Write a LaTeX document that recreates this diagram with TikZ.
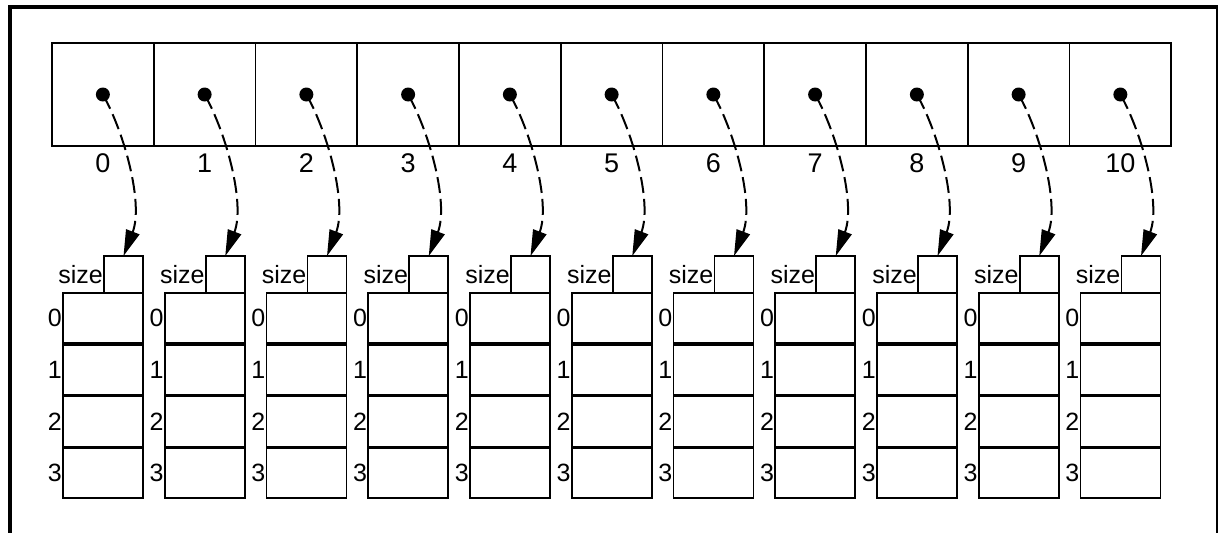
\documentclass[tikz,border=0pt]{standalone}
\usepackage{fontspec}
\setmainfont{Liberation Sans}
\usetikzlibrary{arrows.meta,calc}
\begin{document}
\begin{tikzpicture}[x=1pt,y=-1pt,
  frame/.style={line width=4pt},
  cell/.style={draw, line width=1.8pt, minimum width=101.75pt, minimum height=103pt, inner sep=0pt, outer sep=0pt},
  sizebox/.style={draw, line width=1.6pt, minimum width=39pt, minimum height=37pt, inner sep=0pt, outer sep=0pt},
  rowbox/.style={draw, line width=1.6pt, minimum width=80pt, minimum height=50pt, inner sep=0pt, outer sep=0pt},
  lab/.style={font=\fontsize{25}{30}\selectfont, inner sep=1pt},
  toplab/.style={font=\fontsize{27}{32}\selectfont, inner sep=1pt},
  conn/.style={line width=2pt, dash pattern=on 16pt off 6pt, -{Triangle[length=26pt,width=14pt]}},
  dot/.style={fill=black}]
\useasboundingbox (0,0) rectangle (1219,533);
\draw[frame] (9.5,533) -- (9.5,7) -- (1218,7);
\draw[line width=2.5pt] (1217,5) -- (1217,533);
\foreach \i in {0,...,10} {
  \node[cell] (c\i) at ({52+101.75*(\i+0.5)}, 94.5) {};
  \coordinate (d\i) at (c\i.center);
  \fill[dot] (d\i) circle (7pt);
  \node[toplab] (n\i) at ({52+101.75*(\i+0.5)}, 163) {\i};
  \node[sizebox] (s\i) at ({63+101.75*\i+60.5}, 274.5) {};
  \node[lab, anchor=east] (sl\i) at (s\i.west) {size};
  \foreach \j in {0,...,3} {
    \node[rowbox] (r\i-\j) at ({63+101.75*\i+40}, {318+51.7*\j}) {};
    \node[lab, anchor=east] (rl\i-\j) at (r\i-\j.west) {\j};
  }
  \draw[conn] (d\i) .. controls ($(d\i)+(22,39)$) and ($(s\i.north)+(20,-52)$) .. (s\i.north);
}
\end{tikzpicture}
\end{document}
